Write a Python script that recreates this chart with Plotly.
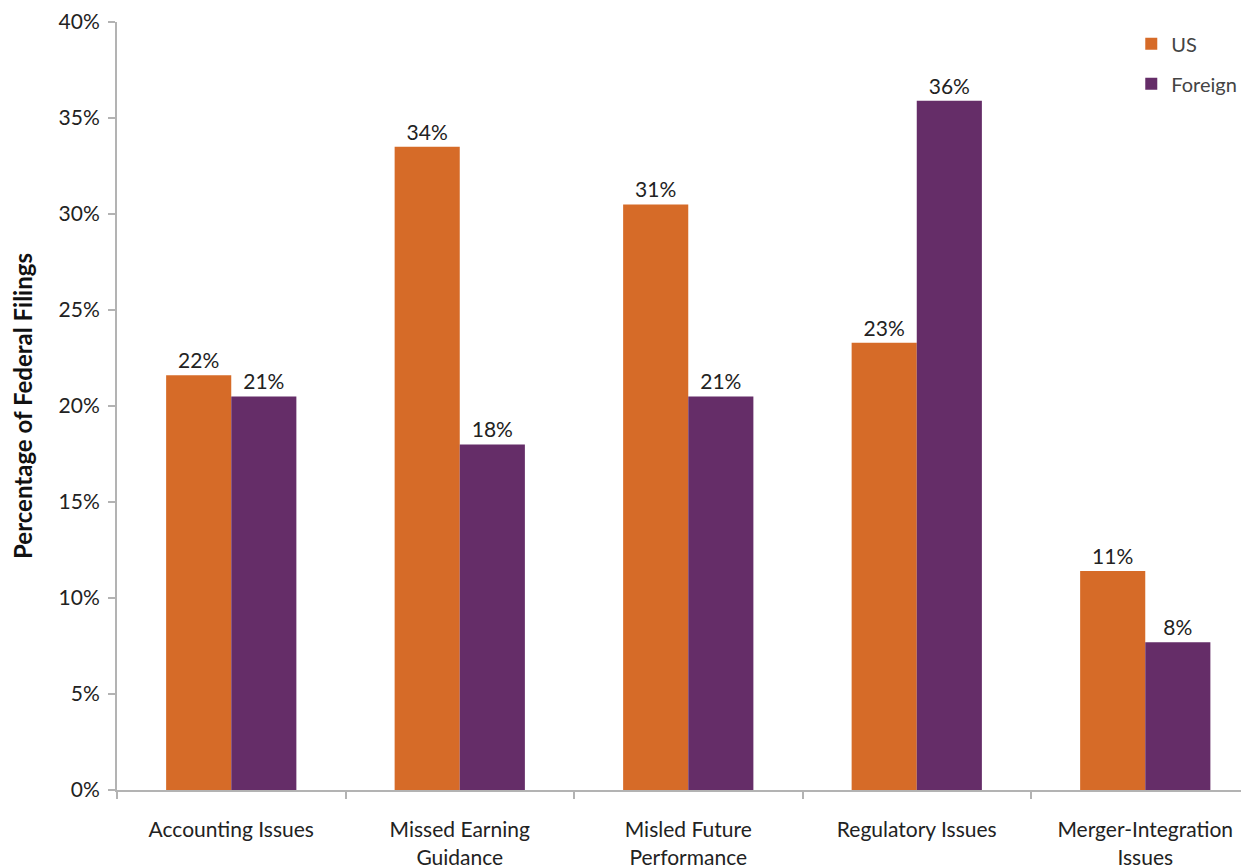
import plotly.graph_objects as go

categories = ["Accounting Issues", "Missed Earning<br>Guidance", "Misled Future<br>Performance",
              "Regulatory Issues", "Merger-Integration<br>Issues"]
us_values = [21.6, 33.5, 30.5, 23.3, 11.4]
foreign_values = [20.5, 18.0, 20.5, 35.9, 7.7]
y_ticks = [0, 5, 10, 15, 20, 25, 30, 35, 40]
y_tick_labels = [f"{v}%" for v in y_ticks]

FONT = "Lato, 'Open Sans', sans-serif"
OFF = 8  # default body margin of the html page
fig = go.Figure()
fig.add_trace(go.Bar(name="US", x=categories, y=us_values, marker_color="#D66B28",
                     legendgroup="us", marker_line_width=0,
                     texttemplate="%{y:.0f}%", textposition="outside",
                     textfont=dict(size=21, color="#222", family=FONT), cliponaxis=False))
fig.add_trace(go.Bar(name="Foreign", x=categories, y=foreign_values, marker_color="#652D68",
                     legendgroup="fo", marker_line_width=0,
                     texttemplate="%{y:.0f}%", textposition="outside",
                     textfont=dict(size=21, color="#222", family=FONT), cliponaxis=False))

fig.update_layout(
    width=1249 - OFF, height=865 - OFF,
    margin=dict(l=117 - OFF, r=0, t=22 - OFF, b=75, autoexpand=False),
    paper_bgcolor="white", plot_bgcolor="white",
    barmode="group", bargap=0.43, bargroupgap=0,
    font=dict(family=FONT, size=20, color="#222"),
    showlegend=True,
    legend=dict(x=0.896, y=0.997, xanchor="left", yanchor="top",
                font=dict(size=20, color="#444"), tracegroupgap=11,
                traceorder="grouped", bgcolor="rgba(0,0,0,0)"),
)
fig.update_xaxes(range=[-0.5, 4.454], showline=True, linecolor="#b3b3b3", linewidth=2,
                 ticks="outside", tickson="boundaries", ticklen=7, tickcolor="#b3b3b3",
                 tickwidth=1.5, showgrid=False, tickfont=dict(size=21, color="#222"),
                 ticklabelstandoff=20, automargin=False)
fig.update_yaxes(range=[0, 40], tickvals=y_ticks, ticktext=y_tick_labels,
                 showline=True, linecolor="#b3b3b3", linewidth=2,
                 ticks="outside", ticklen=7, tickcolor="#b3b3b3", tickwidth=1.5,
                 showgrid=False, zeroline=False, tickfont=dict(size=21, color="#222"),
                 ticklabelstandoff=4, automargin=False,
                 title=dict(text="<b>Percentage of Federal Filings</b>",
                            font=dict(size=24, color="#111"), standoff=22))

fig.write_html("out.html")
